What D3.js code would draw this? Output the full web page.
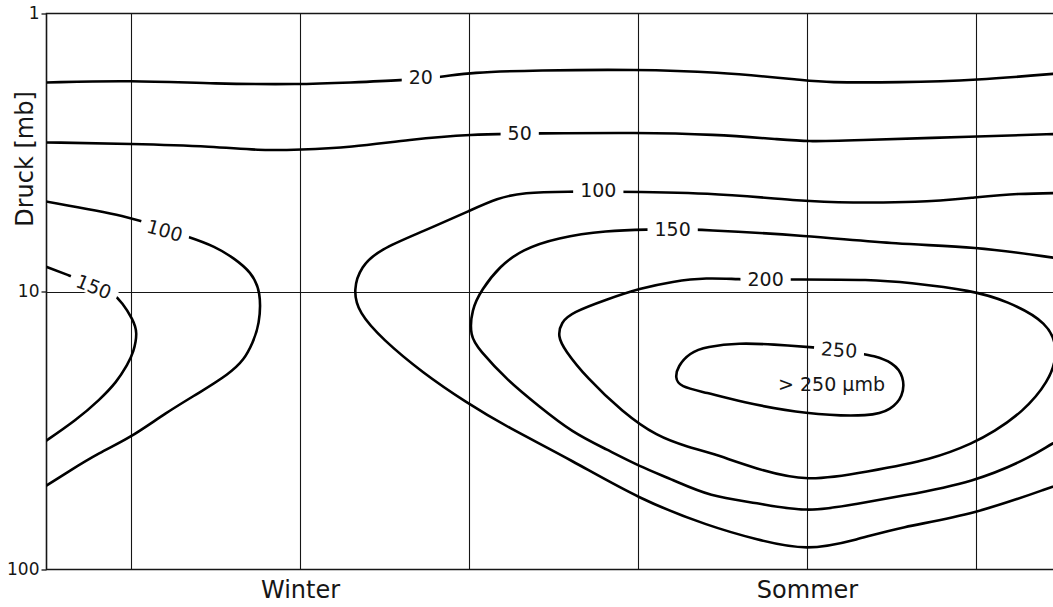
<!DOCTYPE html>
<meta charset="utf-8" />
<script src="https://d3js.org/d3.v7.min.js"></script>
<style>
  body { margin: 0; background: #fff; }
</style>
<div id="chart"></div>
<script>
  // Ozone partial pressure isolines (µmb), points are [month, pressure in mb]
  // month 0 = winter, month 6 = summer
  const c20 = [[-3, 1.77], [-2, 1.74], [-1, 1.79], [0, 1.8], [0.6, 1.77], [1.2, 1.74], [1.7, 1.69], [2, 1.63], [2.8, 1.6], [4, 1.59], [4.9, 1.62], [6, 1.74], [6.2, 1.77], [7.1, 1.77], [8, 1.74], [9, 1.64]];
  const c50 = [[-3, 2.91], [-2, 2.94], [-1, 3.01], [-0.5, 3.11], [0, 3.09], [0.6, 3.03], [1.3, 2.84], [2, 2.72], [2.8, 2.7], [4, 2.68], [4.9, 2.72], [5.7, 2.84], [6, 2.89], [6.5, 2.86], [8, 2.77], [9, 2.71]];
  const c100Winter = [[-3.05, 4.72], [-2, 5.37], [-1.6, 5.98], [-1.33, 6.34], [-1, 6.89], [-0.78, 7.6], [-0.58, 8.5], [-0.46, 10], [-0.48, 13.2], [-0.56, 15.3], [-0.66, 17.6], [-0.84, 19.8], [-1.19, 23.1], [-1.58, 27.2], [-2.02, 33.8], [-2.37, 37.9], [-2.76, 44.8], [-3.05, 51]];
  const c150Winter = [[-3.05, 8.05], [-2.73, 8.76], [-2.43, 9.5], [-2.23, 10.08], [-2.1, 10.96], [-1.98, 12.6], [-1.92, 14], [-1.97, 16.6], [-2.04, 18.3], [-2.17, 21.2], [-2.37, 24.5], [-2.64, 28.9], [-3.05, 35.2]];
  const c100Summer = [[9.1, 4.42], [8.48, 4.44], [7.98, 4.59], [7.3, 4.79], [6.5, 4.79], [5.98, 4.75], [4.85, 4.4], [3.54, 4.37], [3.22, 4.37], [2.63, 4.4], [2.33, 4.63], [2.04, 5.07], [1.45, 6.09], [0.94, 7.06], [0.72, 8.13], [0.63, 9.84], [0.69, 11.9], [0.98, 14.9], [1.45, 19.6], [1.97, 25.1], [2.44, 30.6], [3.22, 40.5], [4.02, 56], [4.85, 70], [5.4, 78], [6, 86], [6.6, 78], [7.09, 70.5], [7.98, 63.4], [8.91, 50.3], [9.1, 48]];
  const c150Summer = [[9.1, 33.2], [8.91, 34.9], [8.67, 39.2], [7.98, 48.6], [7.09, 54.6], [6.6, 58], [6, 62.5], [5.4, 57.5], [4.85, 54.6], [4.41, 47.5], [4.02, 42.6], [3.63, 37], [3.22, 32.1], [2.83, 25.9], [2.44, 20.7], [2.12, 16.2], [2.01, 14.5], [2.03, 11.6], [2.15, 9.84], [2.36, 8.13], [2.63, 7.06], [3.04, 6.4], [3.63, 6.03], [4.14, 5.98], [4.41, 5.98], [4.73, 5.98], [5.98, 6.29], [7.09, 6.77], [7.98, 6.89], [8.91, 7.55], [9.1, 7.7]];
  const c200 = [[5.51, 9.05], [5.2, 9.05], [4.81, 8.91], [4.41, 9.2], [4.02, 9.75], [3.63, 10.68], [3.22, 11.9], [3.09, 12.9], [3.05, 14.5], [3.13, 16.2], [3.39, 20.4], [3.82, 27.2], [4.22, 33.2], [4.61, 36.4], [4.85, 37.9], [5.4, 43.5], [6, 48.5], [6.7, 44.5], [7.49, 40.2], [7.98, 34.9], [8.2, 32.1], [8.55, 27.2], [8.86, 21.2], [8.98, 16.5], [8.86, 12.9], [8.36, 10.8], [7.96, 9.92], [7.18, 9.28], [6.78, 9.05], [5.83, 9.05]];
  const c250 = [[6.38, 16.2], [6.11, 15.9], [5.59, 15.5], [5.2, 15.3], [4.81, 15.8], [4.61, 16.6], [4.47, 18.6], [4.44, 20.4], [4.49, 22], [4.81, 23.1], [5.2, 24.9], [5.99, 27.7], [6.78, 28.2], [6.99, 26.6], [7.14, 23.9], [7.15, 20.2], [7.02, 18], [6.78, 17], [6.62, 16.7]];

  const openLines = [c20, c50, c100Winter, c150Winter, c100Summer, c150Summer];
  const closedLines = [c200, c250];

  // contour labels
  const labelText = ["20", "50", "100", "150", "100", "150", "200", "250"];
  const labelMonth = [1.43, 2.6, -1.6, -2.44, 3.53, 4.41, 5.51, 6.38];
  const labelMb = [1.7, 2.7, 6.03, 9.6, 4.33, 5.98, 9.05, 16.2];
  const noteText = "> 250 µmb";
  const noteMonth = 6.29, noteMb = 21.5;

  const pressureTicks = [1, 10, 100];
  const monthGrid = [-2, 0, 2, 4, 6, 8];
  const seasons = ["Winter", "Sommer"];
  const seasonMonth = [0, 6];

  const width = 1053, height = 607;
  const font = "'DejaVu Sans', sans-serif";

  const svg = d3
    .select("#chart")
    .append("svg")
    .attr("width", width)
    .attr("height", height)
    .style("font-family", font);

  const x = d3.scaleLinear().domain([-3, 9]).range([46.5, 1060.5]);
  const y = d3.scaleLog().domain([1, 100]).range([13.5, 569.5]);

  const ink = "#161616";

  // grid
  svg
    .append("g")
    .selectAll("line")
    .data(monthGrid)
    .join("line")
    .attr("x1", (d) => Math.round(x(d)) + 0.5)
    .attr("x2", (d) => Math.round(x(d)) + 0.5)
    .attr("y1", y(1))
    .attr("y2", y(100))
    .attr("stroke", ink)
    .attr("stroke-width", 1.1);

  svg
    .append("line")
    .attr("x1", x(-3))
    .attr("x2", x(9))
    .attr("y1", Math.round(y(10)) + 0.5)
    .attr("y2", Math.round(y(10)) + 0.5)
    .attr("stroke", ink)
    .attr("stroke-width", 1.1);

  // frame (left, top, bottom)
  svg
    .append("path")
    .attr("d", `M${x(9)},${y(1)}H${x(-3)}V${y(100)}H${x(9)}`)
    .attr("fill", "none")
    .attr("stroke", ink)
    .attr("stroke-width", 1.6);

  // y axis
  const yAxis = svg
    .append("g")
    .attr("transform", `translate(${x(-3)},0)`)
    .call(
      d3.axisLeft(y)
        .tickValues(pressureTicks)
        .tickFormat(d3.format("d"))
        .tickSize(5)
        .tickSizeOuter(0)
        .tickPadding(2)
    );
  yAxis.select(".domain").remove();
  yAxis.selectAll("line").attr("stroke", ink).attr("stroke-width", 1.3);
  yAxis
    .selectAll("text")
    .style("font-family", font)
    .style("font-size", "17px")
    .attr("fill", ink);

  // season labels
  const xAxis = svg
    .append("g")
    .attr("transform", `translate(0,${y(100)})`)
    .call(
      d3.axisBottom(x)
        .tickValues(seasonMonth)
        .tickFormat((d, i) => seasons[i])
        .tickSize(0)
        .tickPadding(11)
    );
  xAxis.select(".domain").remove();
  xAxis
    .selectAll("text")
    .style("font-family", font)
    .style("font-size", "24px")
    .attr("fill", ink);

  svg
    .append("text")
    .attr("transform", "rotate(-90)")
    .attr("x", -159)
    .attr("y", 33)
    .attr("text-anchor", "middle")
    .style("font-size", "24px")
    .attr("fill", ink)
    .text("Druck [mb]");

  // contours
  svg
    .append("clipPath")
    .attr("id", "plot")
    .append("rect")
    .attr("x", x(-3))
    .attr("y", y(1))
    .attr("width", x(9) - x(-3))
    .attr("height", y(100) - y(1));

  const plot = svg.append("g").attr("clip-path", "url(#plot)");

  const openLine = d3
    .line()
    .x((d) => x(d[0]))
    .y((d) => y(d[1]))
    .curve(d3.curveBasis);

  const closedLine = d3
    .line()
    .x((d) => x(d[0]))
    .y((d) => y(d[1]))
    .curve(d3.curveBasisClosed);

  plot
    .selectAll("path.open")
    .data(openLines)
    .join("path")
    .attr("class", "open")
    .attr("d", openLine)
    .attr("fill", "none")
    .attr("stroke", "#000")
    .attr("stroke-width", 2.6)
    .attr("stroke-linejoin", "round");

  plot
    .selectAll("path.closed")
    .data(closedLines)
    .join("path")
    .attr("class", "closed")
    .attr("d", closedLine)
    .attr("fill", "none")
    .attr("stroke", "#000")
    .attr("stroke-width", 2.6)
    .attr("stroke-linejoin", "round");

  // labels sit in gaps of the lines
  const labelAngle = [0, 0, 16, 22, 0, 0, 0, 4];
  const labels = plot
    .selectAll("g.label")
    .data(labelText)
    .join("g")
    .attr("class", "label")
    .attr(
      "transform",
      (d, i) => `translate(${x(labelMonth[i])},${y(labelMb[i])}) rotate(${labelAngle[i]})`
    );

  labels
    .append("text")
    .attr("text-anchor", "middle")
    .attr("dy", "0.36em")
    .style("font-size", "19px")
    .attr("fill", ink)
    .text((d) => d);

  labels.each(function () {
    const g = d3.select(this);
    const b = g.select("text").node().getBBox();
    g.insert("rect", "text")
      .attr("x", b.x - 7)
      .attr("y", b.y + 2)
      .attr("width", b.width + 14)
      .attr("height", b.height - 4)
      .attr("fill", "#fff");
  });

  plot
    .append("text")
    .attr("x", x(noteMonth))
    .attr("y", y(noteMb))
    .attr("dy", "0.36em")
    .attr("text-anchor", "middle")
    .style("font-size", "19px")
    .attr("fill", ink)
    .text(noteText);
</script>
